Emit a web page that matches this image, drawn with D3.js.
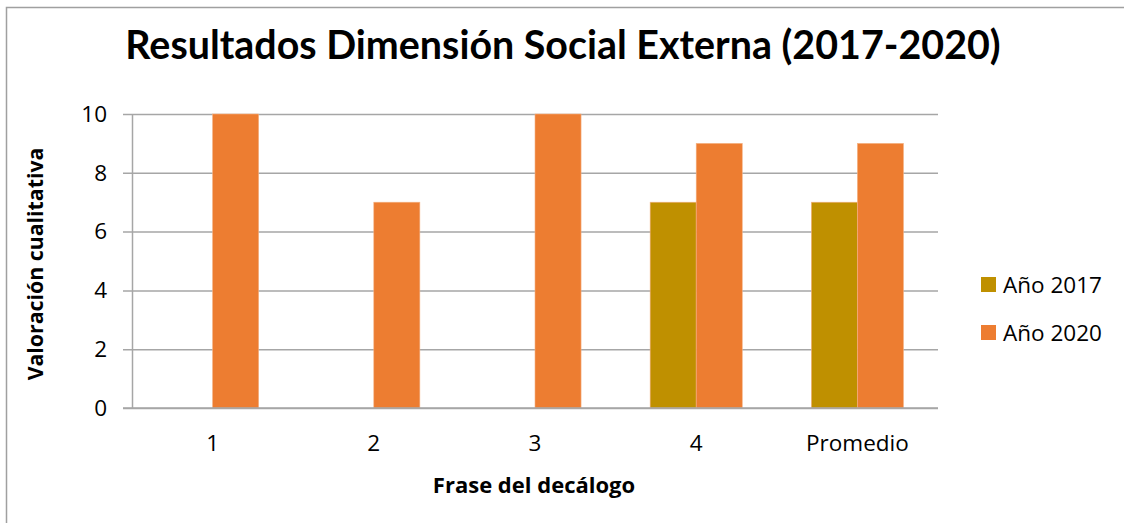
<!DOCTYPE html>
<html>
<head>
<meta charset="utf-8">
<script src="https://cdn.jsdelivr.net/npm/d3@7"></script>
<style>
  body { margin: 0; background: #fff; }
  svg { display: block; font-family: "Open Sans", sans-serif; }
</style>
</head>
<body>
<svg width="1124" height="523"></svg>
<script>
const categories = ['1', '2', '3', '4', 'Promedio'];
const seriesNames = ['Año 2017', 'Año 2020'];
const values2017 = [0, 0, 0, 7, 7];
const values2020 = [10, 7, 10, 9, 9];
const yTicks = [0, 2, 4, 6, 8, 10];
const colors = ['#bf9000', '#ed7d31'];

const svg = d3.select('svg');
const width = 1124;
const height = 523;
const margin = { top: 114, right: 186, bottom: 115, left: 132 };

// frame: only left and top edges show in the picture
svg.append('rect').attr('width', width).attr('height', height).attr('fill', '#fff');
svg.append('path')
  .attr('d', `M6.5,${height} V7.5 H${width}`)
  .attr('fill', 'none').attr('stroke', '#a0a0a0').attr('stroke-width', 1.5);

const x = d3.scaleBand()
  .domain(categories)
  .range([margin.left, width - margin.right]);

// excel gap width 150% -> two bars take 2/3.5 of the band
const barW = x.bandwidth() / 3.5;
const x1 = d3.scaleBand()
  .domain(seriesNames)
  .range([x.bandwidth() / 2 - barW, x.bandwidth() / 2 + barW]);

const y = d3.scaleLinear()
  .domain([0, 10])
  .range([height - margin.bottom, margin.top]);

// gridlines
const gy = svg.append('g')
  .attr('transform', `translate(${width - margin.right},0)`)
  .call(d3.axisRight(y).tickValues(yTicks).tickSize(-(width - margin.right - margin.left) - 9).tickFormat(''));
gy.select('.domain').remove();
gy.selectAll('line').attr('stroke', '#a6a6a6').attr('stroke-width', 1.5);

// y labels + axis line
const gyl = svg.append('g')
  .attr('transform', `translate(${margin.left},0)`)
  .call(d3.axisLeft(y).tickValues(yTicks).tickSize(0).tickPadding(25));
gyl.select('.domain').attr('stroke', '#a6a6a6').attr('stroke-width', 1.5);
gyl.selectAll('text')
  .attr('font-size', 22.5).attr('fill', '#000')
  .style('font-family', '"Open Sans", sans-serif');

// bars
const series = [values2017, values2020];
const groups = svg.append('g').selectAll('g')
  .data(categories)
  .join('g')
  .attr('transform', d => `translate(${x(d)},0)`);

groups.selectAll('rect')
  .data((d, i) => seriesNames.map((s, j) => ({ s, v: series[j][i], c: colors[j] })))
  .join('rect')
  .attr('x', d => x1(d.s))
  .attr('width', x1.bandwidth())
  .attr('y', d => y(d.v))
  .attr('height', d => y(0) - y(d.v))
  .attr('fill', d => d.c)
  .attr('stroke', '#f4b183')
  .attr('stroke-width', d => d.v > 0 ? 0.6 : 0);

// x labels
const gx = svg.append('g')
  .attr('transform', `translate(0,${y(0)})`)
  .call(d3.axisBottom(x).tickSize(0).tickPadding(27));
gx.select('.domain').remove();
gx.selectAll('text')
  .attr('font-size', 22.5).attr('fill', '#000')
  .style('font-family', '"Open Sans", sans-serif');

// baseline
svg.append('line')
  .attr('x1', margin.left - 9).attr('x2', width - margin.right)
  .attr('y1', y(0)).attr('y2', y(0))
  .attr('stroke', '#a6a6a6').attr('stroke-width', 1.5);

// title
svg.append('text')
  .attr('x', 563).attr('y', 59)
  .attr('text-anchor', 'middle')
  .attr('font-size', 39.4).attr('font-weight', 'bold')
  .style('font-family', 'Lato, sans-serif')
  .text('Resultados Dimensión Social Externa (2017-2020)');

// axis titles
svg.append('text')
  .attr('x', 534).attr('y', 493)
  .attr('text-anchor', 'middle')
  .attr('font-size', 22).attr('font-weight', 'bold')
  .text('Frase del decálogo');

svg.append('text')
  .attr('transform', 'translate(43,264) rotate(-90)')
  .attr('text-anchor', 'middle')
  .attr('font-size', 21.3).attr('font-weight', 'bold')
  .text('Valoración cualitativa');

// legend
const legend = svg.append('g').selectAll('g')
  .data(seriesNames)
  .join('g')
  .attr('transform', (d, i) => `translate(981,${277 + i * 48})`);
legend.append('rect')
  .attr('width', 15).attr('height', 15)
  .attr('fill', (d, i) => colors[i]);
legend.append('text')
  .attr('x', 22).attr('y', 16)
  .attr('font-size', 22.5)
  .text(d => d);
</script>
</body>
</html>
